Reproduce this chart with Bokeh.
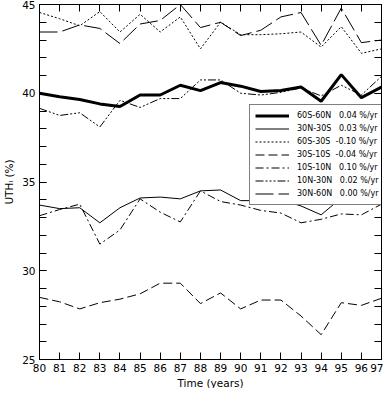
from bokeh.plotting import figure
from bokeh.models import FixedTicker, LinearAxis, Legend, LegendItem, Range1d, Title
from bokeh.embed import file_html
from bokeh.resources import INLINE

years = list(range(80, 98))

s_60S60N = [40.0, 39.8, 39.65, 39.4, 39.25, 39.9, 39.9, 40.45, 40.15, 40.6, 40.4, 40.1, 40.15, 40.35, 39.55, 41.05, 39.75, 40.35]
s_30N30S = [33.7, 33.5, 33.55, 32.7, 33.55, 34.1, 34.15, 34.05, 34.5, 34.55, 33.95, 33.95, 34.0, 33.65, 33.15, 34.1, 33.8, 34.25]
s_60S30S = [44.55, 44.2, 43.8, 44.6, 43.45, 44.45, 43.45, 44.3, 42.5, 44.0, 43.3, 43.3, 43.35, 43.45, 42.6, 43.75, 42.25, 42.5]
s_30S10S = [28.5, 28.25, 27.85, 28.2, 28.4, 28.7, 29.3, 29.3, 28.15, 28.75, 27.85, 28.35, 28.35, 27.45, 26.4, 28.2, 28.05, 28.45]
s_10S10N = [33.1, 33.45, 33.75, 31.5, 32.3, 34.05, 33.3, 32.75, 34.5, 33.9, 33.7, 33.4, 33.25, 32.7, 32.9, 33.2, 33.15, 33.75]
s_10N30N = [39.15, 38.75, 38.9, 38.1, 39.6, 39.2, 39.7, 39.7, 40.75, 40.75, 40.0, 39.9, 40.05, 40.3, 39.85, 40.45, 39.9, 40.95]
s_30N60N = [43.45, 43.45, 43.85, 43.65, 42.8, 43.9, 44.1, 45.0, 43.7, 44.0, 43.25, 43.55, 44.3, 44.55, 42.7, 44.8, 42.85, 43.0]

names = ["60S-60N", "30N-30S", "60S-30S", "30S-10S", "10S-10N", "10N-30N", "30N-60N"]
trends = ["0.04", "0.03", "-0.10", "-0.04", "0.10", "0.02", "0.00"]

x_ticks = list(range(80, 98))
y_major = [25, 30, 35, 40, 45]
y_minor = list(range(25, 46))

FONT = "DejaVu Sans"

p = figure(width=383, height=388, output_backend="svg", toolbar_location=None,
           x_range=Range1d(80, 97), y_range=Range1d(25, 45),
           min_border_left=26, min_border_right=2, min_border_top=4,
           min_border_bottom=0)
p.xgrid.visible = False
p.ygrid.visible = False
p.outline_line_color = "black"
p.outline_line_width = 1
p.background_fill_color = "white"

def style_axis(ax, labels=True):
    ax.axis_line_color = "black"
    ax.major_tick_in = 7
    ax.major_tick_out = 0
    ax.minor_tick_in = 7
    ax.minor_tick_out = 0
    ax.major_tick_line_color = "black"
    ax.minor_tick_line_color = "black"
    ax.major_label_text_font = FONT
    ax.axis_label_text_font = FONT
    ax.axis_label_text_font_style = "normal"
    ax.axis_label_text_font_size = "10.5px"
    ax.axis_label_text_color = "black"
    if labels:
        ax.major_label_text_font_size = "10.5px"
        ax.major_label_text_color = "black"
    else:
        ax.major_label_text_font_size = "1px"
        ax.major_label_text_color = None
        ax.major_label_standoff = 0

xt = FixedTicker(ticks=x_ticks, minor_ticks=[])
yt = FixedTicker(ticks=y_major, minor_ticks=y_minor)

p.xaxis.ticker = xt
p.yaxis.ticker = yt
style_axis(p.xaxis[0])
style_axis(p.yaxis[0])
p.yaxis.axis_label = "UTH\u2097 (%)"
p.xaxis.major_label_standoff = 4
p.yaxis.major_label_standoff = 4
p.yaxis.axis_label_standoff = 4

p.add_layout(Title(text="Time (years)", align="center", text_font=FONT,
                   text_font_size="10.5px", text_font_style="normal",
                   text_color="black", standoff=0, offset=0), "below")

top = LinearAxis(ticker=FixedTicker(ticks=x_ticks, minor_ticks=[]))
style_axis(top, labels=False)
p.add_layout(top, "above")
right = LinearAxis(ticker=FixedTicker(ticks=y_major, minor_ticks=y_minor))
style_axis(right, labels=False)
p.add_layout(right, "right")

series = [s_60S60N, s_30N30S, s_60S30S, s_30S10S, s_10S10N, s_10N30N, s_30N60N]
widths = [3, 1, 1, 1, 1, 1, 1]
dashes = ["solid", "solid", "2 2", "9 4", "8 3 2 3", "8 2 2 2 2 2 2 2", "18 5"]

items = []
for nm, tr, s, w, d in zip(names, trends, series, widths, dashes):
    r = p.line(years, s, line_color="black", line_width=w, line_dash=d)
    sp = "\u00a0\u00a0" if tr.startswith("-") else "\u00a0\u00a0\u00a0"
    items.append(LegendItem(label=nm + sp + tr + " %/yr", renderers=[r]))

legend = Legend(items=items, location=(210, 154),
                border_line_color="black", border_line_width=1,
                background_fill_color="white", background_fill_alpha=1,
                label_text_font=FONT, label_text_font_size="8px",
                label_text_color="black",
                glyph_width=34, glyph_height=11, label_height=11,
                label_standoff=8, spacing=2, padding=5, margin=0)
p.add_layout(legend)

open("out.html", "w").write(file_html(p, INLINE))
